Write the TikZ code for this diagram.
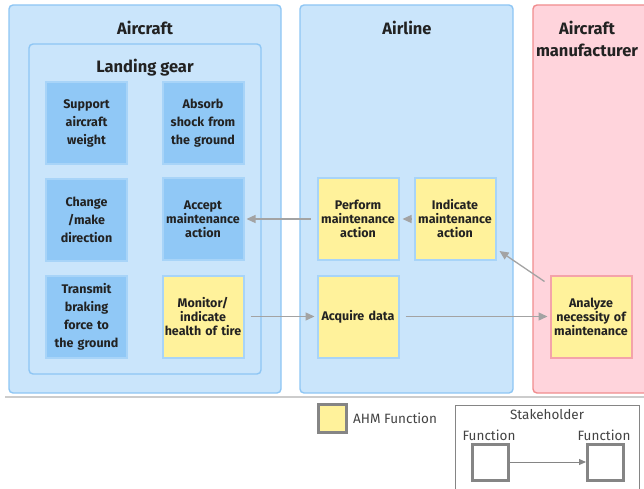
\documentclass[tikz,border=0pt]{standalone}
\usepackage{fontspec}
\setmainfont{Fira Sans}
\usetikzlibrary{arrows.meta}

\definecolor{regionblue}{HTML}{CAE5FB}
\definecolor{regionline}{HTML}{8EC6F4}
\definecolor{fnblue}{HTML}{90C8F6}
\definecolor{fnline}{HTML}{A8D4F8}
\definecolor{ahmyellow}{HTML}{FFF29B}
\definecolor{mfrpink}{HTML}{FFD4DC}
\definecolor{mfrline}{HTML}{F08C8E}
\definecolor{mfrbox}{HTML}{F4A3AA}
\definecolor{linkgray}{HTML}{A3A3A3}
\definecolor{legendgray}{HTML}{858585}
\definecolor{txt}{HTML}{222222}

\tikzset{
  region/.style={draw=regionline, fill=regionblue, line width=1.4pt,
    rounded corners=4pt, inner sep=0pt},
  mfrregion/.style={region, draw=mfrline, fill=mfrpink},
  regiontitle/.style={text=txt, font=\bfseries\fontsize{16.5}{22}\selectfont,
    align=center, inner sep=0pt},
  fnbox/.style={draw=fnline, fill=fnblue, line width=2pt, minimum width=81pt,
    minimum height=82pt, inner sep=0pt, text width=80pt, align=center,
    text=txt, font=\bfseries\fontsize{12.5}{18}\selectfont},
  ahmbox/.style={fnbox, fill=ahmyellow},
  ahmmfr/.style={ahmbox, draw=mfrbox},
  link/.style={draw=linkgray, line width=1.3pt,
    -{Triangle[length=9pt,width=8pt]}},
  legendsq/.style={draw=legendgray, line width=3pt, minimum width=36pt,
    minimum height=36pt, inner sep=0pt},
  legendtext/.style={text=txt!85, font=\fontsize{13.5}{15}\selectfont, inner sep=0pt},
}

\begin{document}
\begin{tikzpicture}[x=1pt,y=-1pt]
\useasboundingbox (0,0) rectangle (644,489);
\clip (0,0) rectangle (644,489);

% stakeholder regions
\node[region, minimum width=272pt, minimum height=388pt] (aircraft) at (145,199) {};
\node[region, minimum width=232pt, minimum height=330pt] (gear) at (145,209) {};
\node[region, minimum width=213pt, minimum height=388pt] (airline) at (406.5,199) {};
\node[mfrregion, minimum width=140pt, minimum height=388pt] (mfr) at (603,199) {};

\node[regiontitle] (aircraftT) at (145,28) {Aircraft};
\node[regiontitle] (gearT) at (145,68) {Landing gear};
\node[regiontitle] (airlineT) at (407,28) {Airline};
\node[regiontitle] (mfrT) at (587,39) {Aircraft\\manufacturer};

% landing gear functions
\node[fnbox] (support) at (86.5,123) {Support\\aircraft\\weight};
\node[fnbox] (absorb) at (203,123) {Absorb\\shock from\\the ground};
\node[fnbox] (change) at (86.5,219.5) {Change\\/make\\direction};
\node[fnbox] (accept) at (203,219) {Accept\\[-4pt]maintenance\\[-4pt]action};
\node[fnbox] (transmit) at (86.5,317) {Transmit\\braking\\force to\\the ground};
\node[ahmbox] (monitor) at (203,316.5) {Monitor/\\[-4pt]indicate\\[-4pt]health of tire};

% airline functions
\node[ahmbox] (perform) at (358,219) {Perform\\[-4pt]maintenance\\[-4pt]action};
\node[ahmbox] (indicate) at (455,219) {Indicate\\[-4pt]maintenance\\[-4pt]action};
\node[ahmbox] (acquire) at (358,316.5) {Acquire data};

% manufacturer function
\node[ahmmfr] (analyze) at (591,316.5) {Analyze\\[-4pt]necessity of\\[-4pt]maintenance};

% information flow
\draw[link, shorten <=6pt, shorten >=2pt] (perform.west) -- (accept.east);
\draw[link, shorten <=2pt, shorten >=3pt] (indicate.west) -- (perform.east);
\draw[link, shorten <=6pt, shorten >=2pt] (monitor.east) -- (acquire.west);
\draw[link, shorten <=6pt, shorten >=2pt] (acquire.east) -- (analyze.west);
\draw[link] ([xshift=-5pt,yshift=-7pt]analyze.north west)
  -- ([xshift=3pt,yshift=10pt]indicate.south east);

% separator
\coordinate (sepL) at (5,397);
\coordinate (sepR) at (644,397);
\draw[draw=black!20, line width=2pt] (sepL) -- (sepR);

% legend
\node[legendsq, fill=ahmyellow, minimum width=28pt, minimum height=28pt] (keyahm) at (332,418) {};
\node[legendtext, anchor=west] (keyahmT) at (353,418) {AHM Function};

\node[draw=legendgray, line width=1pt, minimum width=184pt, minimum height=100pt,
  inner sep=0pt] (keyframe) at (547,455) {};
\node[legendtext] (keyframeT) at (547,415) {Stakeholder};
\node[legendtext] (keyfnAT) at (489,435) {Function};
\node[legendtext] (keyfnBT) at (604,435) {Function};
\node[legendsq, fill=white] (keyfnA) at (490.5,462) {};
\node[legendsq, fill=white] (keyfnB) at (605.5,462) {};
\draw[draw=legendgray, line width=1pt, -{Triangle[length=7pt,width=6pt]}] (keyfnA.east) -- (keyfnB.west);
\end{tikzpicture}
\end{document}
